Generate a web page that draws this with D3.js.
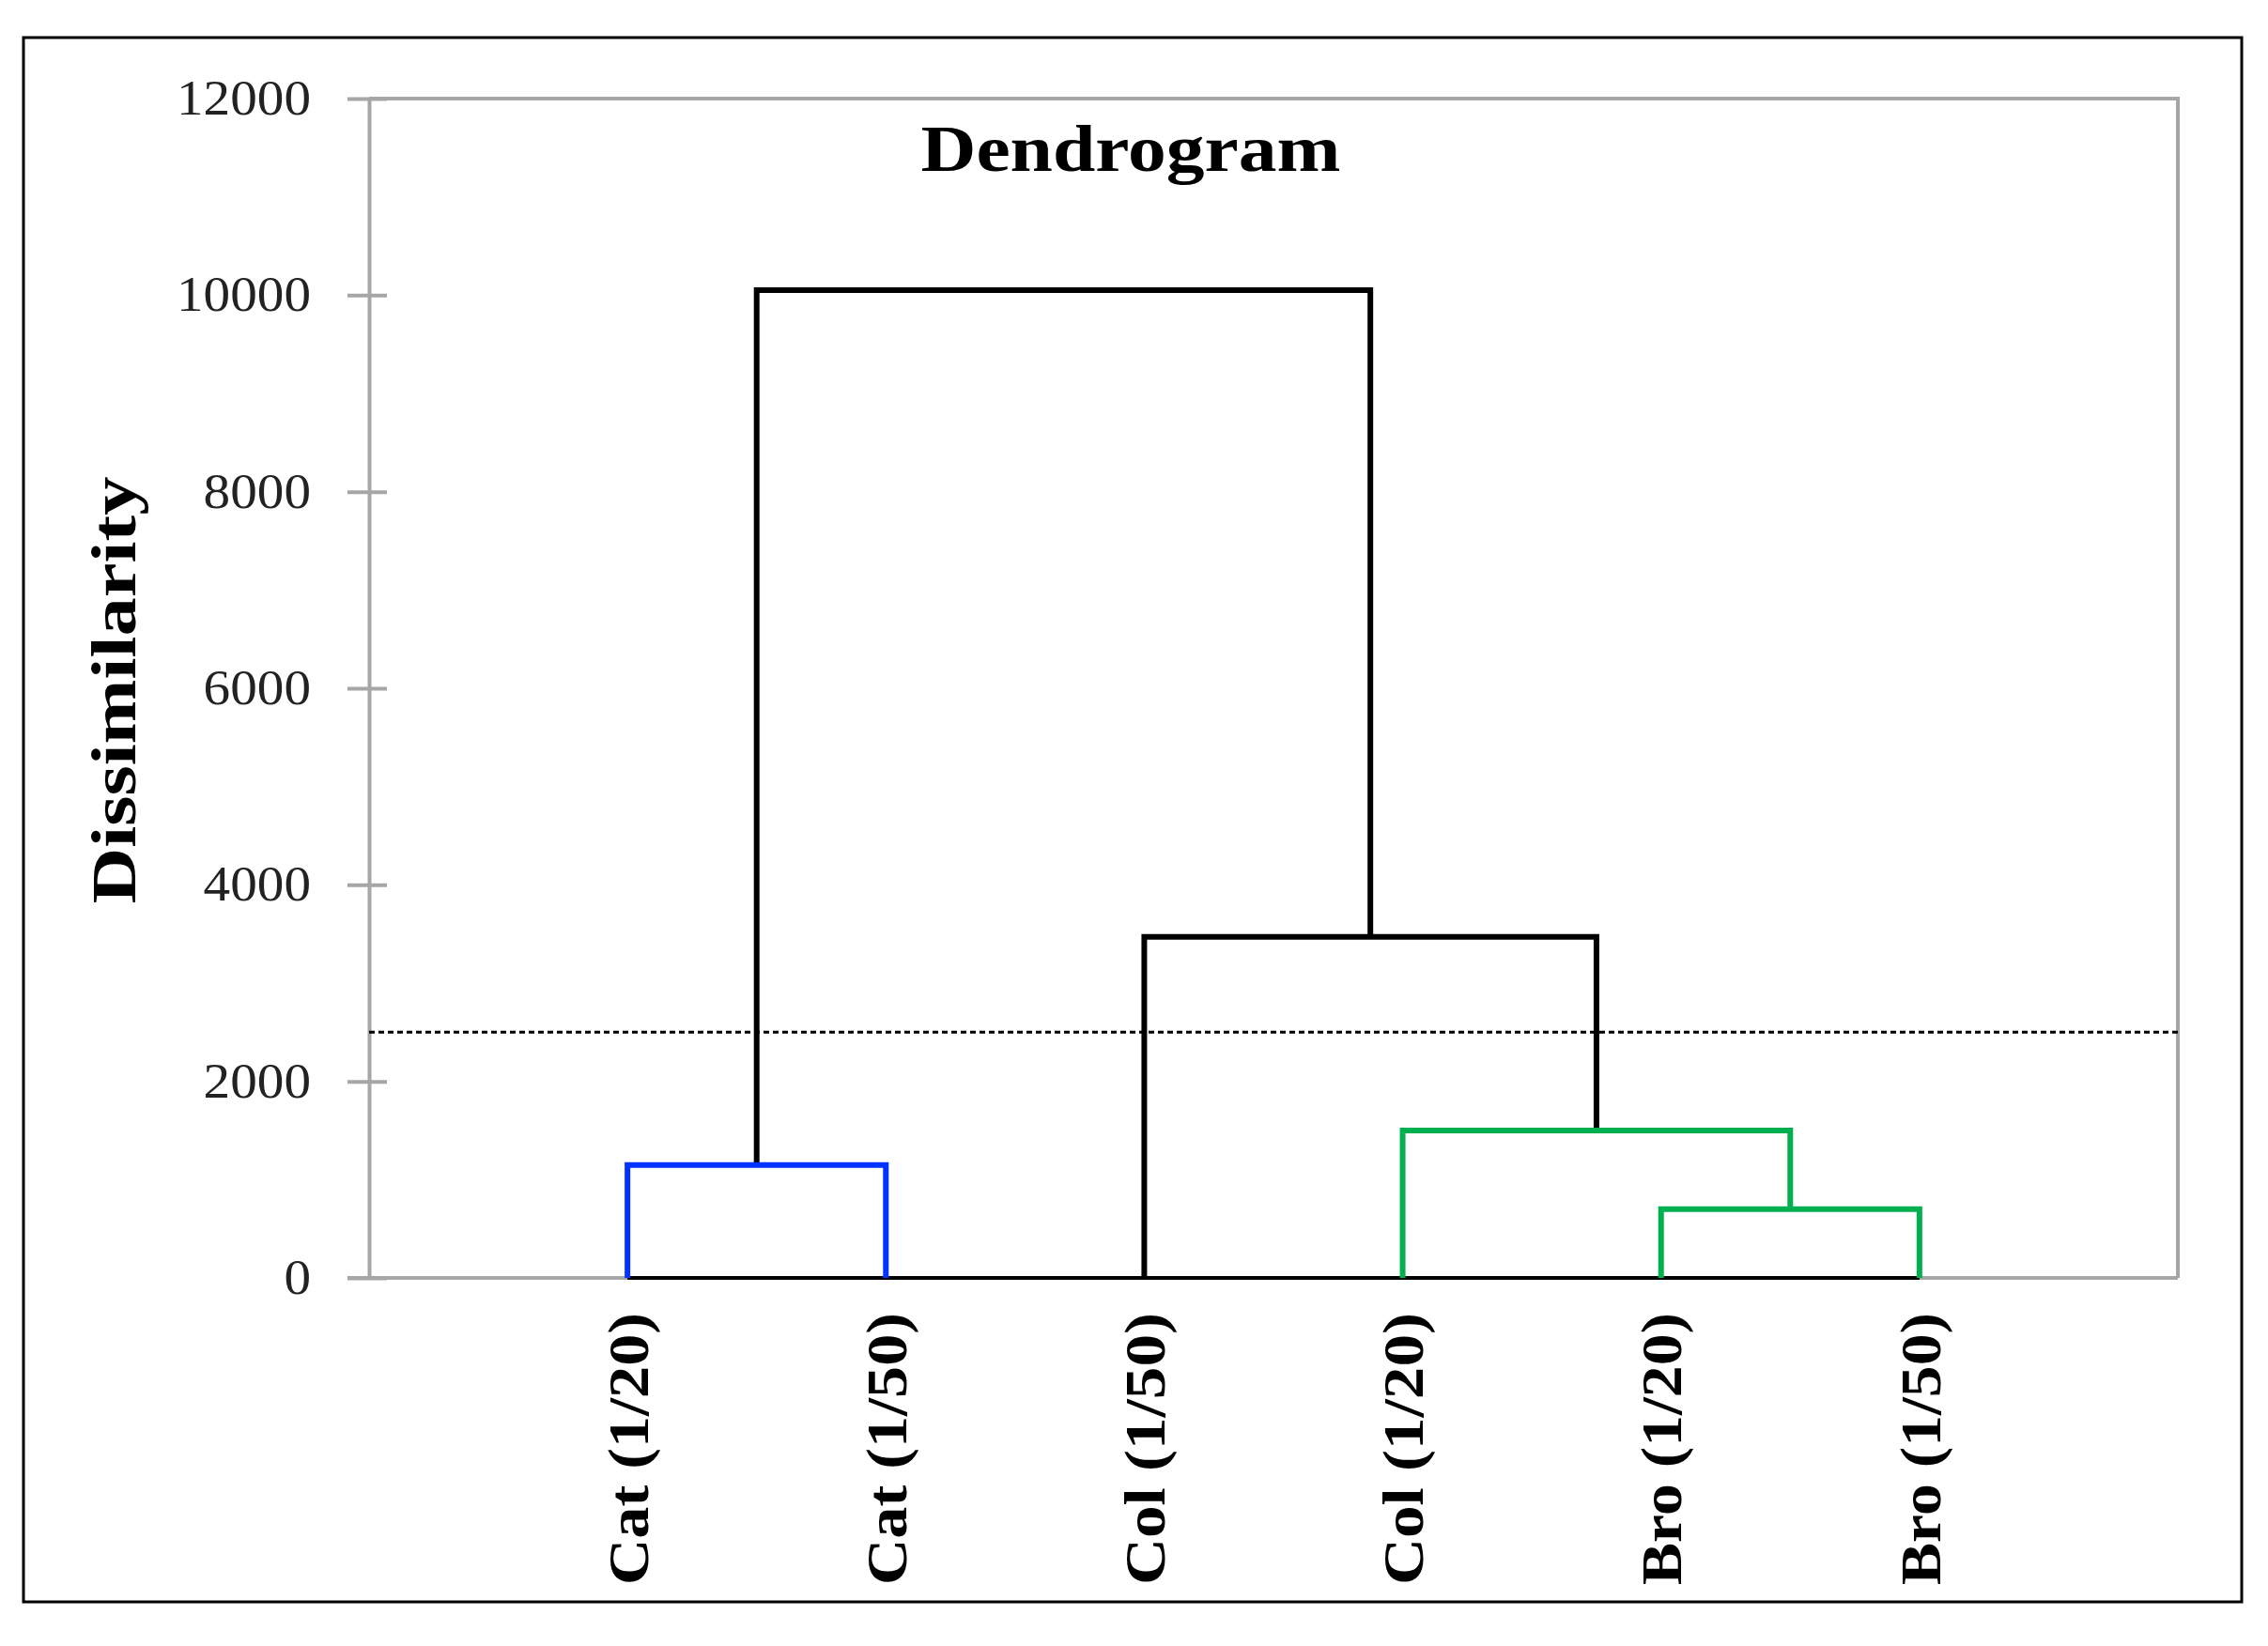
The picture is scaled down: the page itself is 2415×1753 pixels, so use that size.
<!DOCTYPE html>
<html>
<head>
<meta charset="utf-8">
<script src="https://cdn.jsdelivr.net/npm/d3@7"></script>
<style>
  body { margin: 0; background: #fff; }
  text { font-family: "Liberation Serif", "DejaVu Serif", serif; }
</style>
</head>
<body>
<svg id="chart" width="2415" height="1753"></svg>
<script>
// leaves in display order (x position = index + 1)
var leaves = ["Cat (1/20)", "Cat (1/50)", "Col (1/50)", "Col (1/20)", "Bro (1/20)", "Bro (1/50)"];

// merges: left/right are leaf indices or earlier merge ids ("m0"...), height = dissimilarity
var merges = [
  { id: "m0", left: 0, right: 1, height: 1150, color: "#0033ff" },
  { id: "m1", left: 4, right: 5, height: 700, color: "#00b050" },
  { id: "m2", left: 3, right: "m1", height: 1500, color: "#00b050" },
  { id: "m3", left: 2, right: "m2", height: 3470, color: "#000" },
  { id: "m4", left: "m0", right: "m3", height: 10050, color: "#000" }
];

var cutHeight = 2500;
var yTicks = [0, 2000, 4000, 6000, 8000, 10000, 12000];

var svg = d3.select("#chart");
// note: "top" is reserved on window, so prefix these
var plotL = 393, plotR = 2319, plotT = 105, plotB = 1361;

var x = d3.scaleLinear().domain([0, 7]).range([plotL, plotR]);
var y = d3.scaleLinear().domain([0, 12000]).range([plotB, plotT]);

// outer frame
svg.append("rect")
  .attr("x", 25).attr("y", 40)
  .attr("width", 2362).attr("height", 1666)
  .attr("fill", "none").attr("stroke", "#000").attr("stroke-width", 3);

// plot box top + right (gray)
svg.append("path")
  .attr("d", "M" + plotL + "," + y(12000) + "H" + plotR + "V" + y(0))
  .attr("fill", "none").attr("stroke", "#a6a6a6").attr("stroke-width", 4);

// y axis
var yAxis = svg.append("g")
  .attr("transform", "translate(" + plotL + ",0)")
  .call(d3.axisLeft(y).tickValues(yTicks).tickFormat(d3.format("d"))
    .tickSize(23).tickPadding(39).tickSizeOuter(0));
yAxis.select(".domain").attr("stroke", "#a6a6a6").attr("stroke-width", 4);
yAxis.selectAll(".tick line").attr("stroke", "#a6a6a6").attr("stroke-width", 4).attr("x1", 19);
yAxis.selectAll(".tick text")
  .attr("font-family", "Liberation Serif, serif")
  .attr("font-size", 52).attr("fill", "#222")
  .attr("textLength", function(d) { return String(d).length * 28.6; })
  .attr("lengthAdjust", "spacingAndGlyphs");

// x baseline (gray across, black under the leaves)
svg.append("line")
  .attr("x1", plotL - 23).attr("x2", plotR)
  .attr("y1", y(0)).attr("y2", y(0))
  .attr("stroke", "#a6a6a6").attr("stroke-width", 4);
svg.append("line")
  .attr("x1", x(1)).attr("x2", x(leaves.length))
  .attr("y1", y(0)).attr("y2", y(0))
  .attr("stroke", "#000").attr("stroke-width", 4);

// compute node positions
var pos = {};
leaves.forEach(function(d, i) { pos[i] = { x: i + 1, h: 0 }; });
merges.forEach(function(m) {
  var a = pos[m.left], b = pos[m.right];
  pos[m.id] = { x: (a.x + b.x) / 2, h: m.height };
  m.a = a; m.b = b;
});

// dashed cut line
svg.append("line")
  .attr("x1", plotL).attr("x2", plotR)
  .attr("y1", y(cutHeight)).attr("y2", y(cutHeight))
  .attr("stroke", "#000").attr("stroke-width", 3)
  .attr("stroke-dasharray", "6,4");

// links: draw each merge as a U shape
svg.append("g").selectAll("path")
  .data(merges.slice().reverse())
  .enter().append("path")
    .attr("d", function(m) {
      return "M" + x(m.a.x) + "," + y(m.a.h) +
        "V" + y(m.height) + "H" + x(m.b.x) + "V" + y(m.b.h);
    })
    .attr("fill", "none")
    .attr("stroke", function(m) { return m.color; })
    .attr("stroke-width", 6)
    .attr("stroke-linejoin", "miter");

// leaf labels
svg.append("g").selectAll("text")
  .data(leaves)
  .enter().append("text")
    .attr("transform", function(d, i) { return "translate(" + x(i + 1) + ",1398) rotate(-90)"; })
    .attr("dy", "0.35em")
    .attr("text-anchor", "end")
    .attr("font-weight", "bold")
    .attr("font-size", 62)
    .attr("textLength", 290)
    .attr("lengthAdjust", "spacingAndGlyphs")
    .text(function(d) { return d; });

// title
svg.append("text")
  .attr("x", 1204).attr("y", 182)
  .attr("text-anchor", "middle")
  .attr("font-weight", "bold").attr("font-size", 70)
  .attr("textLength", 447).attr("lengthAdjust", "spacingAndGlyphs")
  .text("Dendrogram");

// y label
svg.append("text")
  .attr("transform", "translate(144,735) rotate(-90)")
  .attr("text-anchor", "middle")
  .attr("font-weight", "bold").attr("font-size", 68)
  .attr("textLength", 455).attr("lengthAdjust", "spacingAndGlyphs")
  .text("Dissimilarity");
</script>
</body>
</html>
